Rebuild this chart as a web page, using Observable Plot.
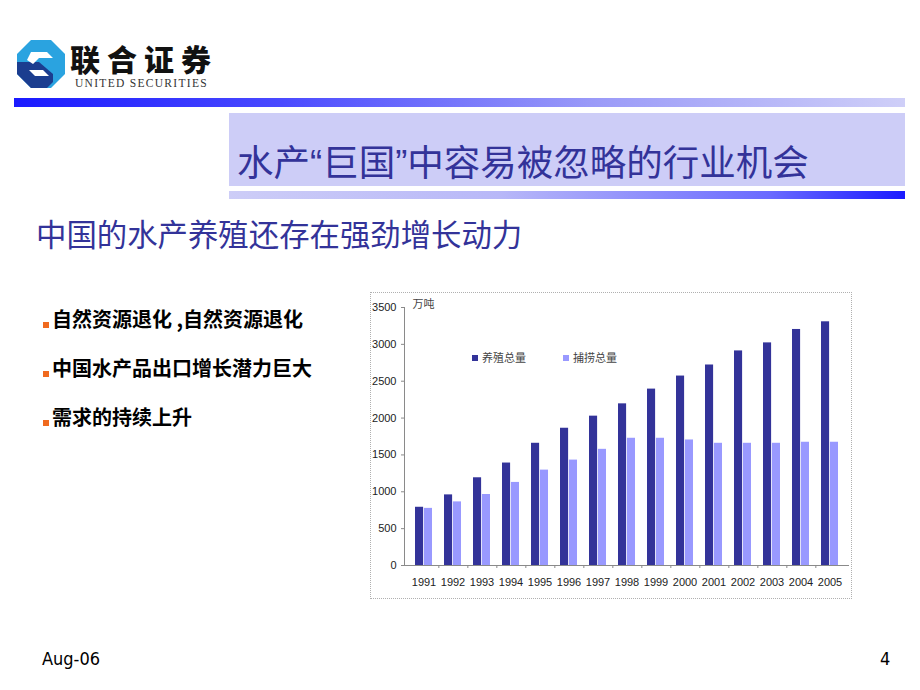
<!DOCTYPE html>
<html>
<head>
<meta charset="utf-8">
<script src="https://cdn.jsdelivr.net/npm/d3@7"></script>
<script src="https://cdn.jsdelivr.net/npm/@observablehq/plot@0.6"></script>
<style>
  html, body { margin: 0; padding: 0; background: #fff; }
  body { width: 920px; height: 690px; position: relative; overflow: hidden; font-family: "Noto Sans CJK SC", sans-serif; }
  .abs { position: absolute; }
  #topbar { left: 14px; top: 98px; width: 891px; height: 9px; background: linear-gradient(to right, #1a1aff 0%, #4a4aff 30%, #9a9af8 65%, #cfcff8 100%); }
  #titlebox { left: 229px; top: 113px; width: 676px; height: 73px; background: #cdcdf7; }
  #title { left: 237px; top: 141px; font-family: "Liberation Sans", "Noto Sans CJK SC", sans-serif; font-size: 36.5px; line-height: 46px; color: #333399; white-space: nowrap; }
  #stripe { left: 229px; top: 191px; width: 676px; height: 8px; background: linear-gradient(to right, #cdcdf7 0%, #b8b8f8 40%, #6a6aff 80%, #1a1aff 100%); }
  #subtitle { left: 36px; top: 212px; font-size: 30.4px; line-height: 42px; color: #333399; white-space: nowrap; }
  .bullet { left: 43px; font-size: 20px; font-weight: 700; line-height: 28px; color: #000; white-space: nowrap; }
  .bullet::before { content: ""; display: inline-block; width: 6px; height: 6px; background: #f06a1e; margin-right: 3px; vertical-align: -1px; }
  #chartbox { left: 370px; top: 292px; border: 1px dotted #b0b0b0; width: 480px; height: 305px; }
  .leg { font-size: 11px; color: #444; white-space: nowrap; line-height: 14px; }
  .leg i { display: inline-block; width: 6px; height: 6px; margin-right: 4px; vertical-align: 1px; }
  #footl { left: 42px; top: 648px; font-family: "DejaVu Sans Condensed", sans-serif; font-size: 18px; color: #000; }
  #footr { left: 880px; top: 648px; font-family: "DejaVu Sans Condensed", sans-serif; font-size: 18px; color: #000; }
  #logotext { left: 70px; top: 43px; font-size: 30px; font-weight: 900; color: #111; letter-spacing: 7px; line-height: 30px; }
  #logosub { left: 75px; top: 76px; font-family: "Liberation Serif", serif; font-size: 11.5px; line-height: 14px; color: #333; letter-spacing: 1.3px; }
</style>
</head>
<body>
<script>
// ---- data ----
const years = ["1991","1992","1993","1994","1995","1996","1997","1998","1999","2000","2001","2002","2003","2004","2005"];
const aquaculture = [790, 958, 1190, 1390, 1658, 1862, 2026, 2193, 2393, 2570, 2720, 2911, 3020, 3202, 3306];
const capture = [775, 863, 963, 1127, 1294, 1430, 1576, 1726, 1726, 1703, 1658, 1658, 1658, 1672, 1672];
const yTicks = [0, 500, 1000, 1500, 2000, 2500, 3000, 3500];
const seriesNames = ["养殖总量", "捕捞总量"];
const seriesColors = ["#333399", "#9999ff"];
const unitLabel = "万吨";
const title = "水产“巨国”中容易被忽略的行业机会";
const subtitle = "中国的水产养殖还存在强劲增长动力";
const bullets = ["自然资源退化 ,自然资源退化", "中国水产品出口增长潜力巨大", "需求的持续上升"];
const footLeft = "Aug-06";
const footRight = "4";

const rows = years.map((y, i) => ({year: y, aqua: aquaculture[i], cap: capture[i]}));

// ---- layout ----
function add(html, cls, id, style) {
  const d = document.createElement("div");
  d.className = "abs " + (cls || "");
  if (id) d.id = id;
  if (style) d.setAttribute("style", style);
  d.innerHTML = html;
  document.body.appendChild(d);
  return d;
}

// logo
const logo = document.createElement("div");
logo.className = "abs";
logo.setAttribute("style", "left:17px;top:40px;width:48px;height:48px;");
logo.innerHTML = `<svg width="48" height="48" viewBox="0 0 48 48">
  <polygon points="14,0 34,0 48,14 48,34 34,48 14,48 0,34 0,14" fill="#2aa3e0"/>
  <polygon points="0,22 22,22 36,34 36,42 30,48 14,48 0,34" fill="#1b3d8f"/>
  <polygon points="14,12 30,12 36,18 22,18 16,24 10,20" fill="#ffffff"/>
  <polygon points="12,30 26,30 32,36 18,36" fill="#ffffff"/>
</svg>`;
document.body.appendChild(logo);
add("联合证券", "", "logotext");
add("UNITED SECURITIES", "", "logosub");

add("", "", "topbar");
add("", "", "titlebox");
add(title, "", "title");
add("", "", "stripe");
add(subtitle, "", "subtitle");
const bulletTops = [305, 354, 403];
bullets.forEach((b, i) => add(b, "bullet", null, `top:${bulletTops[i]}px;`));
add(footLeft, "", "footl");
add(footRight, "", "footr");

// ---- chart ----
const W = 480, H = 305, mL = 33, mR = 2, mT = 14, mB = 33;
const pIn = 0.4, pOut = 0.2;
const step = (W - mL - mR) / (years.length - pIn + 2 * pOut);
const bw = step * (1 - pIn);

const chart = Plot.plot({
  width: W, height: H,
  marginLeft: mL, marginRight: mR, marginTop: mT, marginBottom: mB,
  style: {fontFamily: "'Liberation Sans', Arial, sans-serif", fontSize: "11px", color: "#222", background: "transparent"},
  x: {type: "band", domain: years, paddingInner: pIn, paddingOuter: pOut, label: null},
  y: {domain: [0, 3500], label: null},
  marks: [
    Plot.barY(rows, {x: "year", y: "aqua", fill: seriesColors[0], insetRight: bw / 2}),
    Plot.barY(rows, {x: "year", y: "cap", fill: seriesColors[1], insetLeft: bw / 2}),
    Plot.ruleY([0], {stroke: "#8a8a8a"}),
    Plot.frame({anchor: "left", stroke: "#8a8a8a"}),
    Plot.axisY({ticks: yTicks, tickSize: 3, tickPadding: 5, tickFormat: d => String(d), stroke: "#8a8a8a", fontSize: 11, fill: "#222", label: null}),
    Plot.axisX({tickSize: 0, tickPadding: 13, fontSize: 11, fill: "#222", label: null}),
    Plot.axisX({ticks: years.slice(0, -1), tickSize: 3, tickFormat: () => "", dx: step / 2, stroke: "#8a8a8a", label: null}),
    Plot.text([unitLabel], {frameAnchor: "top-left", dx: 8, dy: -7, fontSize: 11, fill: "#444", fontFamily: "'Noto Sans CJK SC', sans-serif"})
  ]
});

const box = add("", "", "chartbox");
box.appendChild(chart);

// legend (inside the chart box)
const legPos = [[101, 57], [192, 57]];
seriesNames.forEach((n, i) => {
  const l = document.createElement("div");
  l.className = "abs leg";
  l.setAttribute("style", `left:${legPos[i][0]}px;top:${legPos[i][1]}px;`);
  l.innerHTML = `<i style="background:${seriesColors[i]}"></i>${n}`;
  box.appendChild(l);
});
</script>
</body>
</html>
